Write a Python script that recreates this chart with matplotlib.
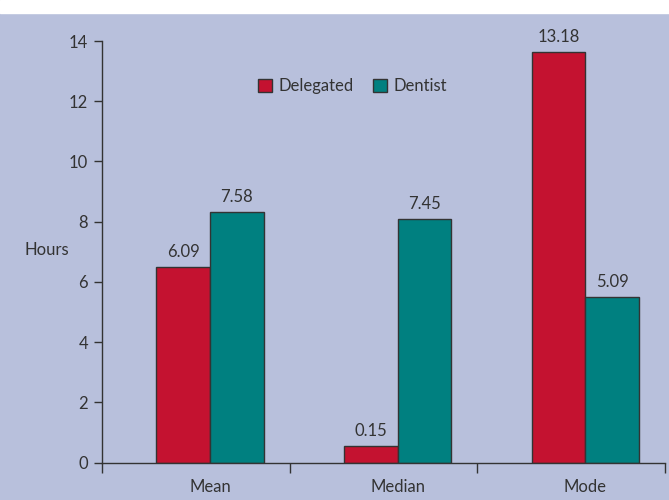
import numpy as np
import matplotlib.pyplot as plt

plt.rcParams['font.family'] = ['Lato', 'DejaVu Sans']

categories = ['Mean', 'Median', 'Mode']
series = ['Delegated', 'Dentist']
# bar heights as drawn in the picture, and the printed value labels
delegated = [6.50, 0.56, 13.65]
dentist = [8.32, 8.10, 5.49]
delegated_labels = ['6.09', '0.15', '13.18']
dentist_labels = ['7.58', '7.45', '5.09']
yticks = [0, 2, 4, 6, 8, 10, 12, 14]

bg = '#b8c0dc'
red = '#c41230'
teal = '#008080'
dark = '#333333'

fig = plt.figure(figsize=(6.69, 5.0), dpi=100, facecolor=bg)
fig.patches.append(plt.Rectangle((0, 0.974), 1, 0.026, transform=fig.transFigure,
                                 color='white', zorder=-1))
ax = fig.add_axes([0.1525, 0.0746, 0.8415, 0.8434])
ax.set_facecolor(bg)

x = np.arange(len(categories)) + 0.575
w = 0.286
b1 = ax.bar(x - w / 2, delegated, w, color=red, edgecolor=dark, linewidth=1, label=series[0])
b2 = ax.bar(x + w / 2, dentist, w, color=teal, edgecolor=dark, linewidth=1, label=series[1])

for bars, labs in ((b1, delegated_labels), (b2, dentist_labels)):
    for r, t in zip(bars, labs):
        ax.annotate(t, (r.get_x() + r.get_width() / 2, r.get_height()),
                    xytext=(0, 5), textcoords='offset points',
                    ha='center', va='bottom', fontsize=12, color=dark)

ax.set_xlim(0, 3)
ax.set_ylim(0, 14)
ax.set_yticks(yticks)
ax.set_xticks([0, 1, 2, 3])
ax.set_xticklabels([])
ax.set_xticks(x, minor=True)
ax.set_xticklabels(categories, minor=True, fontsize=12, color=dark)
ax.tick_params(axis='x', which='minor', length=0, pad=12)
ax.tick_params(axis='x', which='major', length=7, width=1, color=dark)
ax.tick_params(axis='y', length=6, width=1, color=dark, labelsize=12, labelcolor=dark, pad=4)

for s in ['top', 'right']:
    ax.spines[s].set_visible(False)
for s in ['left', 'bottom']:
    ax.spines[s].set_color(dark)
    ax.spines[s].set_linewidth(1)

fig.text(47 / 669, 0.5, 'Hours', ha='center', va='center', fontsize=12, color=dark)

ax.legend(loc='center', bbox_to_anchor=(0.445, 0.893), ncol=2, frameon=False,
          handlelength=0.8, handleheight=0.8, handletextpad=0.4, columnspacing=1.2,
          fontsize=12, labelcolor=dark)

fig.savefig('out.png', dpi=100, facecolor=bg)
